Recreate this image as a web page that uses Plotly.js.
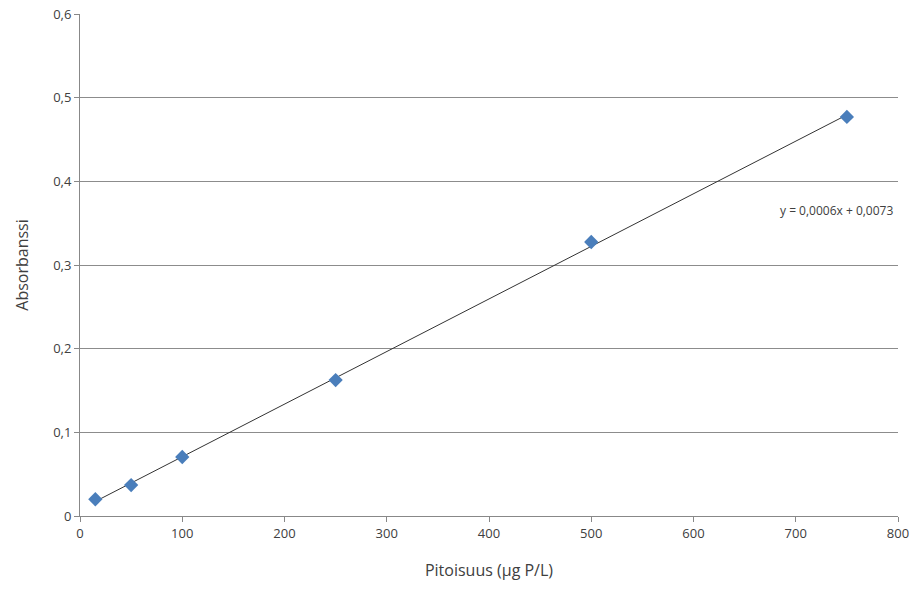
<!DOCTYPE html>
<html><head><meta charset="utf-8">
<script src="https://cdn.plot.ly/plotly-3.0.1.min.js"></script>
<style>html,body{margin:0;padding:0;background:#fff}#chart{width:915px;height:589px}</style>
</head><body><div id="chart"></div>
<script>
var concentration = [15, 50, 100, 250, 500, 750];
var absorbance = [0.020, 0.037, 0.0705, 0.1625, 0.3275, 0.477];
var equationLabel = 'y = 0,0006x + 0,0073';
var xTitle = 'Pitoisuus (µg P/L)';
var yTitle = 'Absorbanssi';

// least-squares trendline from the data (as the spreadsheet does)
var n = concentration.length, sx = 0, sy = 0, sxx = 0, sxy = 0;
for (var i = 0; i < n; i++) { sx += concentration[i]; sy += absorbance[i]; sxx += concentration[i]*concentration[i]; sxy += concentration[i]*absorbance[i]; }
var slope = (n*sxy - sx*sy) / (n*sxx - sx*sx);
var intercept = (sy - slope*sx) / n;
var xMin = Math.min.apply(null, concentration), xMax = Math.max.apply(null, concentration);
var trendX = [xMin, xMax];
var trendY = [intercept + slope*xMin, intercept + slope*xMax];

var font = 'Open Sans, Noto Sans, sans-serif';
var data = [
  {x: trendX, y: trendY, mode: 'lines', type: 'scatter', line: {color: '#333333', width: 1}, hoverinfo: 'skip'},
  {x: concentration, y: absorbance, mode: 'markers', type: 'scatter',
   marker: {symbol: 'diamond', size: 11, color: '#4a7ebb', line: {width: 0}}}
];
var layout = {
  width: 915, height: 589,
  margin: {l: 80, r: 17, t: 14, b: 73},
  showlegend: false,
  separators: ', ',
  paper_bgcolor: '#fff', plot_bgcolor: '#fff',
  font: {family: font, color: '#404040', size: 13},
  xaxis: {
    range: [0, 800], dtick: 100, tick0: 0,
    showgrid: false, zeroline: false,
    showline: true, linecolor: '#888888', linewidth: 1,
    ticks: 'outside', ticklen: 5, tickcolor: '#888888',
    tickfont: {family: font, size: 13, color: '#404040'},
    title: {text: xTitle, font: {family: font, size: 16, color: '#404040'}, standoff: 24}
  },
  yaxis: {
    range: [0, 0.6], dtick: 0.1, tick0: 0,
    showgrid: true, gridcolor: '#8c8c8c', gridwidth: 1,
    zeroline: false,
    showline: true, linecolor: '#888888', linewidth: 1,
    ticks: 'outside', ticklen: 5, tickcolor: '#888888',
    tickfont: {family: font, size: 13, color: '#404040'},
    title: {text: yTitle, font: {family: font, size: 16, color: '#404040'}, standoff: 20}
  },
  annotations: [{
    x: 683, y: 0.3655, xref: 'x', yref: 'y', xanchor: 'left', yanchor: 'middle',
    text: equationLabel, showarrow: false,
    font: {family: font, size: 12, color: '#404040'}
  }]
};
Plotly.newPlot('chart', data, layout, {displayModeBar: false, staticPlot: true});
</script></body></html>
